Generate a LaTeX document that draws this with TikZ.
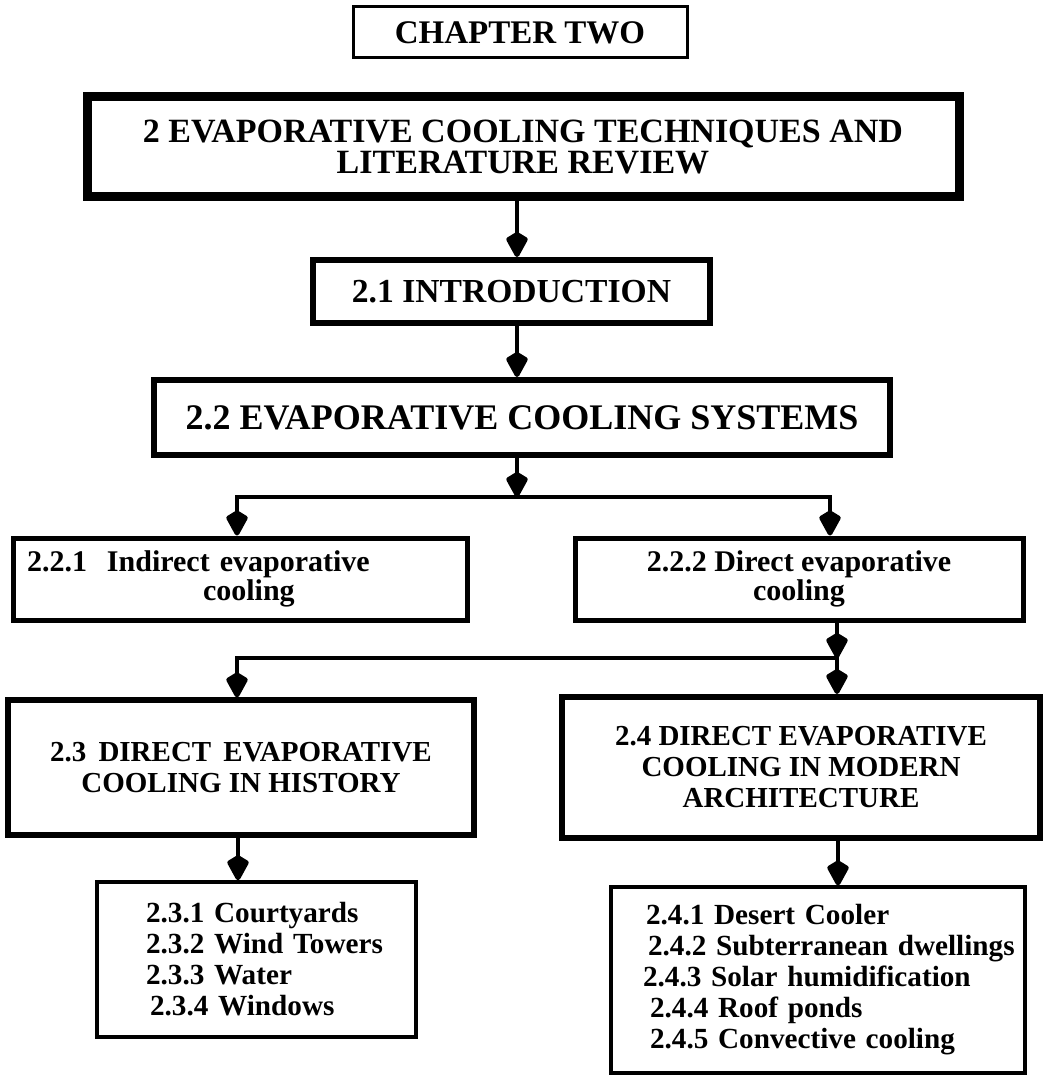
\documentclass[tikz,border=0pt]{standalone}
\usepackage{fontspec}
\setmainfont{Liberation Serif}
\usetikzlibrary{arrows.meta}
\begin{document}
\begin{tikzpicture}[x=0.5pt,y=-0.5pt,
  box/.style={draw, rectangle, inner sep=0pt, align=center},
  capsA/.style={font=\fontsize{17pt}{15.5pt}\selectfont\bfseries},
  capsB/.style={font=\fontsize{14.5pt}{15.5pt}\selectfont\bfseries},
  small/.style={font=\fontsize{14.6pt}{15.5pt}\selectfont\bfseries},
  arr/.style={line width=2.4pt, -{Kite[length=14pt,width=11.5pt,inset=3.5pt,round]}},
  ln/.style={line width=2.4pt, line cap=rect},
]
\useasboundingbox (0,0) rectangle (1043,1075);
\fill[white] (0,0) rectangle (1043,1075);

% boxes
\node[box, line width=1.5pt, minimum width=167pt, minimum height=25.5pt,
      font=\fontsize{16.5pt}{16pt}\selectfont\bfseries] (chap) at (520,32.5) {CHAPTER TWO};
\node[box, line width=4.5pt, minimum width=436pt, minimum height=50pt, capsA] (title) at (523,147)
  {2 EVAPORATIVE COOLING TECHNIQUES AND\\LITERATURE REVIEW};
\node[box, line width=3pt, minimum width=198.5pt, minimum height=31.5pt,
      font=\fontsize{16.8pt}{16pt}\selectfont\bfseries] (intro) at (511.5,291.5) {2.1 INTRODUCTION};
\node[box, line width=3pt, minimum width=368pt, minimum height=37.5pt,
      font=\fontsize{18pt}{16pt}\selectfont\bfseries] (systems) at (522,417.5) {2.2 EVAPORATIVE COOLING SYSTEMS};

\node[box, line width=2.5pt, minimum width=227pt, minimum height=41pt, align=left,
      text width=213pt, inner xsep=7pt, font=\fontsize{15pt}{13.5pt}\selectfont\bfseries] (ind) at (240,579)
  {\mbox{2.2.1\ \ Indirect evaporative}\\\hspace*{88pt}cooling};
\node[box, line width=2.5pt, minimum width=224pt, minimum height=41pt,
      font=\fontsize{15pt}{13.5pt}\selectfont\bfseries] (dir) at (799,579)
  {2.2.2 Direct evaporative\\cooling};

\node[box, line width=2.6pt, minimum width=233pt, minimum height=67.5pt, capsB] (hist) at (241,767.5)
  {2.3\ \,DIRECT\ \,EVAPORATIVE\\COOLING IN HISTORY};
\node[box, line width=3pt, minimum width=239pt, minimum height=70.5pt, capsB] (mod) at (801,767.5)
  {2.4 DIRECT EVAPORATIVE\\COOLING IN MODERN\\ARCHITECTURE};

\node[box, line width=1.8pt, minimum width=159.5pt, minimum height=77.5pt, align=left,
      text width=110.5pt, inner xsep=24.5pt, small] (hsub) at (256.5,959.5)
  {\mbox{2.3.1 Courtyards}\\\mbox{2.3.2 Wind Towers}\\\mbox{2.3.3 Water}\\\mbox{\hspace*{2pt}2.3.4 Windows}};
\node[box, line width=1.6pt, minimum width=207pt, minimum height=93pt, align=left,
      text width=175pt, inner xsep=16pt, small] (msub) at (818,980)
  {\mbox{\hspace*{1.5pt}2.4.1 Desert Cooler}\\\mbox{\hspace*{2.5pt}2.4.2 Subterranean dwellings}\\\mbox{2.4.3 Solar humidification}\\\mbox{\hspace*{3.5pt}2.4.4 Roof ponds}\\\mbox{\hspace*{3.5pt}2.4.5 Convective cooling}};

% connectors
\coordinate (spine) at (517,0);
\coordinate (j1) at (517,497);
\coordinate (j1l) at (237,497);
\coordinate (j1r) at (830,497);
\coordinate (j2) at (837,658);
\coordinate (j2l) at (237,658);
\coordinate (hx) at (238,0);
\coordinate (mx) at (838,0);

\draw[arr] (title.south -| spine) -- (intro.north -| spine);
\draw[arr] (intro.south -| spine) -- (systems.north -| spine);
\draw[arr] (systems.south -| spine) -- (j1);
\draw[ln] (j1l) -- (j1r);
\draw[arr] (j1l) -- (ind.north -| j1l);
\draw[arr] (j1r) -- (dir.north -| j1r);
\draw[arr] (dir.south -| j2) -- (j2);
\draw[ln] (j2l) -- (j2);
\draw[arr] (j2l) -- (hist.north -| j2l);
\draw[arr] (j2) -- (mod.north -| j2);
\draw[arr] (hist.south -| hx) -- (hsub.north -| hx);
\draw[arr] (mod.south -| mx) -- (msub.north -| mx);
\end{tikzpicture}
\end{document}
